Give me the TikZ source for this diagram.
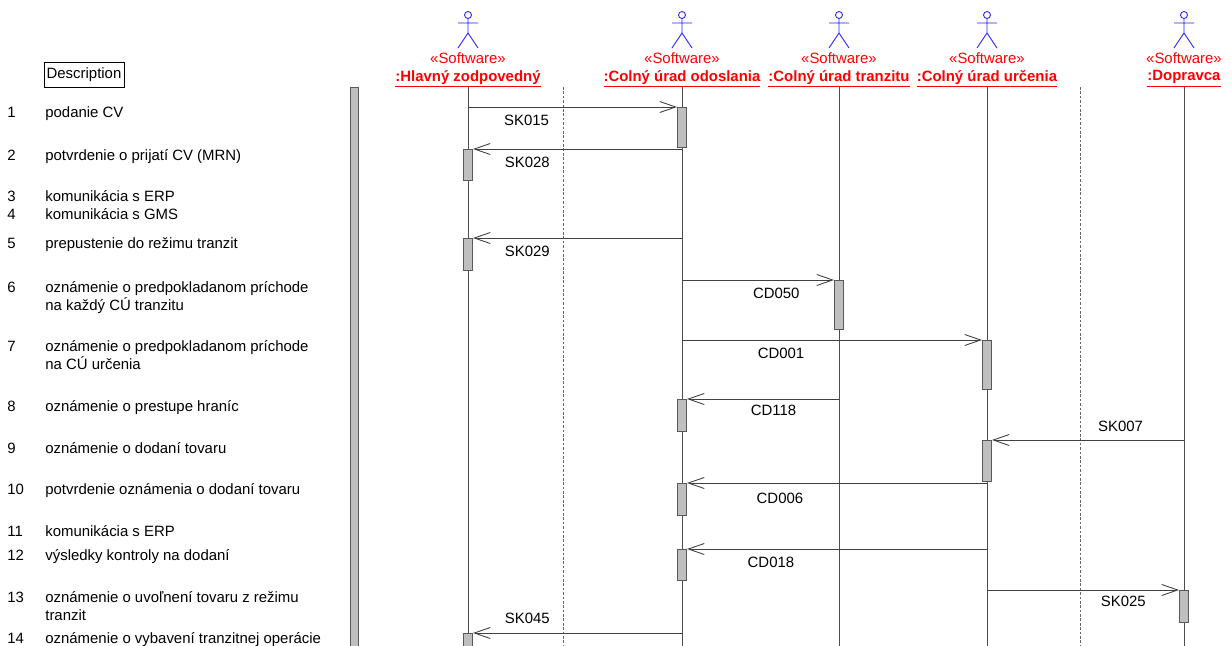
\documentclass[tikz,border=0pt]{standalone}
\usepackage{fontspec}
\setmainfont{Liberation Sans}
\usepackage{tikz}
\usetikzlibrary{arrows.meta}
\tikzset{
  lifeline/.style={draw=black!70, line width=.5pt},
  sepline/.style={draw=black!60, line width=.4pt, dash pattern=on 1.5pt off 1pt},
  act/.style={rectangle, draw=black!65, fill=black!25, line width=.5pt, inner sep=0pt, minimum width=0.18cm, minimum height=#1, anchor=north},
  msg/.style={draw=black!75, line width=.5pt, -{Straight Barb[length=3.2mm, width=2.2mm]}},
  actor/.style={blue!85!white, line width=.5pt}
}

\begin{document}
\begin{tikzpicture}[x=0.02cm, y=-0.02cm, every node/.style={font=\fontsize{8.5}{10.2}\selectfont}]
\useasboundingbox (0,0) rectangle (1232,646);

\coordinate (top) at (0,87);
\coordinate (bot) at (0,660);

% actors
\foreach \n/\x/\t in {hz/468/Hlavný zodpovedný, odo/682/Colný úrad odoslania, tra/839/Colný úrad tranzitu, urc/987/Colný úrad určenia, dop/1184/Dopravca}{
  \draw[actor] (\x,15) circle[radius=0.07cm] (\x,18.5) -- (\x,33) (\x-10,23) -- (\x+10,23) (\x-10,48) -- (\x,33) -- (\x+10,48);
  \node[red] (s\n) at (\x,58) {«Software»};
  \node[red] (\n) at (\x,79) {\underline{\textbf{:\t}}};
}

% lifelines
\foreach \n in {hz,odo,tra,urc,dop}
  \draw[lifeline] (\n |- top) -- (\n |- bot);
\draw[sepline] (563,87) -- (563,660);
\draw[sepline] (1080,87) -- (1080,660);

% description column
\node[draw, line width=.4pt, inner xsep=1.5pt, minimum height=0.4cm] (desc) at (84,75) {Description};
\draw[draw=black!65, fill=black!25, line width=.5pt] (350,87) rectangle (358,660);
% number, first baseline, last baseline, text
\foreach \i/\y/\b/\t in {1/117/117/{podanie CV}, 2/160/160/{potvrdenie o prijatí CV (MRN)}, 3/201/201/{komunikácia s ERP}, 4/219/219/{komunikácia s GMS}, 5/248/248/{prepustenie do režimu tranzit}, 6/292/310/{oznámenie o predpokladanom príchode\\na každý CÚ tranzitu}, 7/351/369/{oznámenie o predpokladanom príchode\\na CÚ určenia}, 8/411/411/{oznámenie o prestupe hraníc}, 9/453/453/{oznámenie o dodaní tovaru}, 10/494/494/{potvrdenie oznámenia o dodaní tovaru}, 11/536/536/{komunikácia s ERP}, 12/560/560/{výsledky kontroly na dodaní}, 13/602/620/{oznámenie o uvoľnení tovaru z režimu\\tranzit}, 14/643/643/{oznámenie o vybavení tranzitnej operácie}}{
  \node[anchor=base west, inner sep=0pt] (n\i) at (7,\y) {\i};
  \node[anchor=base west, inner sep=0pt, align=left] (t\i) at (45,\b) {\t};
}

% activations
\node[act=0.8cm] (a1) at (682,107) {};
\node[act=0.62cm] (a2) at (468,149) {};
\node[act=0.64cm] (a3) at (468,238) {};
\node[act=0.98cm] (a4) at (839,280) {};
\node[act=0.98cm] (a5) at (987,340) {};
\node[act=0.64cm] (a6) at (682,399) {};
\node[act=0.82cm] (a7) at (987,440) {};
\node[act=0.64cm] (a8) at (682,483) {};
\node[act=0.62cm] (a9) at (682,549) {};
\node[act=0.64cm] (a10) at (1184,590) {};
\node[act=0.6cm] (a11) at (468,633) {};

% messages
\draw[msg] (hz |- a1.north) -- node[below=1pt, pos=.28] {SK015} (a1.north west);
\draw[msg] (odo |- a2.north) -- node[below=1pt, pos=.74] {SK028} (a2.north east);
\draw[msg] (odo |- a3.north) -- node[below=1pt, pos=.74] {SK029} (a3.north east);
\draw[msg] (odo |- a4.north) -- node[below=1pt, pos=.62] {CD050} (a4.north west);
\draw[msg] (odo |- a5.north) -- node[below=1pt, pos=.33] {CD001} (a5.north west);
\draw[msg] (tra |- a6.north) -- node[below=0pt, pos=.43] {CD118} (a6.north east);
\draw[msg] (dop |- a7.north) -- node[above=1pt, pos=.33] {SK007} (a7.north east);
\draw[msg] (urc |- a8.north) -- node[below=2pt, pos=.69] {CD006} (a8.north east);
\draw[msg] (urc |- a9.north) -- node[below=1pt, pos=.72] {CD018} (a9.north east);
\draw[msg] (urc |- a10.north) -- node[below=0pt, pos=.71] {SK025} (a10.north west);
\draw[msg] (odo |- a11.north) -- node[above=2pt, pos=.74] {SK045} (a11.north east);
\end{tikzpicture}
\end{document}
